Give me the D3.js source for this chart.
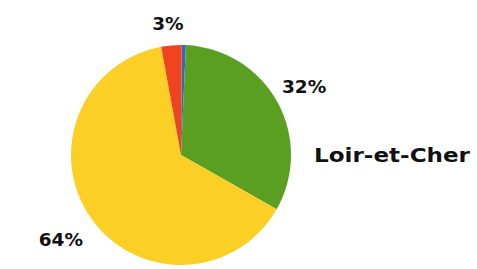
<!DOCTYPE html>
<html>
<head>
<meta charset="utf-8">
<script src="https://cdn.jsdelivr.net/npm/d3@7"></script>
<style>
  body { margin: 0; background: #fff; }
  text { font-family: "DejaVu Sans", Verdana, sans-serif; font-weight: bold; fill: #111; }
</style>
</head>
<body>
<svg></svg>
<script>
// chart data
var categories = ["Autre", "Gauche", "Droite", "Extrême"];
var shares = [0.6, 32.5, 63.9, 3.0];
var shareLabels = ["", "32%", "64%", "3%"];
var colors = ["#2d6cc0", "#5a9e22", "#fbcf25", "#f0431f"];
var title = "Loir-et-Cher";

var width = 477;
var height = 269;
var cx = 181, cy = 155, radius = 110;

var svg = d3.select("svg")
  .attr("width", width)
  .attr("height", height);

var colorScale = d3.scaleOrdinal().domain(categories).range(colors);

// pie layout, starting just right of twelve o'clock
var arcs = d3.pie()
  .sort(null)
  .startAngle(0.007)
  .endAngle(0.007 + 2 * Math.PI)
  .value(d => d.v)(categories.map((c, i) => ({ c: c, v: shares[i], label: shareLabels[i] })));

var arc = d3.arc().innerRadius(0).outerRadius(radius);

var chart = svg.append("g")
  .attr("transform", "translate(" + cx + "," + cy + ")");

chart.selectAll(".arc")
  .data(arcs)
  .enter()
  .append("path")
  .classed("arc", true)
  .attr("fill", d => colorScale(d.data.c))
  .attr("d", arc);

// percentage labels outside the pie (angle in radians from 12 o'clock, radius)
var labelPlace = { "Gauche": [1.062, 141], "Droite": [4.098, 147], "Extrême": [-0.099, 132] };
chart.selectAll(".lbl")
  .data(arcs.filter(d => d.data.label))
  .enter()
  .append("text")
  .classed("lbl", true)
  .attr("text-anchor", "middle")
  .attr("dy", "0.36em")
  .style("font-size", "18.5px")
  .attr("x", d => labelPlace[d.data.c][1] * Math.sin(labelPlace[d.data.c][0]))
  .attr("y", d => -labelPlace[d.data.c][1] * Math.cos(labelPlace[d.data.c][0]))
  .text(d => d.data.label);

svg.append("text")
  .attr("x", 314)
  .attr("y", 161.5)
  .style("font-size", "20px")
  .attr("textLength", 156)
  .attr("lengthAdjust", "spacingAndGlyphs")
  .text(title);
</script>
</body>
</html>
